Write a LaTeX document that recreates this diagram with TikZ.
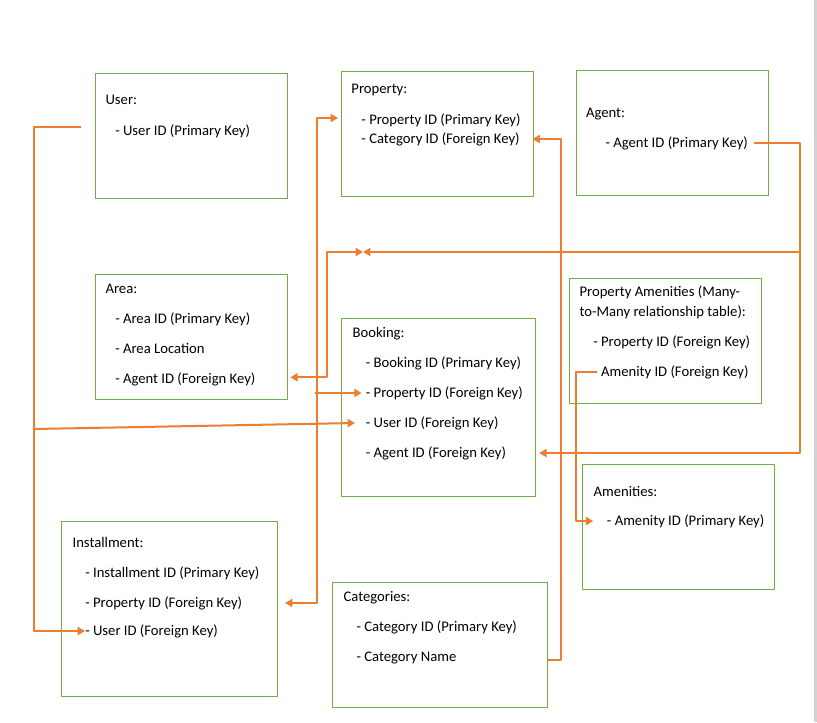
\documentclass[tikz,border=0pt]{standalone}
\usepackage{fontspec}
\setmainfont{Carlito}
\usetikzlibrary{arrows.meta}
\definecolor{boxgreen}{RGB}{112,173,71}
\definecolor{linkorange}{RGB}{237,125,49}
\newcommand{\px}{0.75pt}

\begin{document}
\begin{tikzpicture}[x=\px, y=-\px, line join=round,
    tbl/.style={draw=boxgreen, line width=0.75pt, anchor=north west, inner sep=0pt, outer sep=0pt},
    fld/.style={anchor=west, inner sep=0pt, text height=9pt, text depth=2pt, font=\fontsize{11}{13}\selectfont},
    lnk/.style={draw=linkorange, line width=1.5pt},
    >={Triangle[length=5.5pt,width=6pt]}]

        \useasboundingbox (0,0) rectangle (817,722);
        \fill[gray!35] (813.5,0) rectangle (817,722); % page edge

        % table boxes
        \foreach \nm/\x/\y/\w/\h in {user/95.5/73.5/191.5/124.5, prop/341.5/71.5/192/124.5, agent/576.5/70.5/192/125,
            area/95.5/274.5/191.5/124.5, book/341.5/318.5/194/178, pa/569.5/278.5/192/125,
            amen/582.5/464.5/192/125, instl/61.5/521.5/216/174.5, cat/332.5/582.5/215/125} {
            \node[tbl, minimum width=\w*\px, minimum height=\h*\px] (\nm) at (\x,\y) {};
        }

        % table texts
        \foreach \nm/\x/\y/\txt in {uhead/105.3/100.3/User:, usid/115/130.7/- User ID (Primary Key),
            phead/351.2/89/Property:, prid/361.2/120/- Property ID (Primary Key), prcat/361.2/139/- Category ID (Foreign Key),
            ahead/585.8/112.7/Agent:, agid/605.3/142.7/- Agent ID (Primary Key),
            arhead/105.3/289.3/Area:, arid/115/319.3/- Area ID (Primary Key), arloc/115/349.3/- Area Location,
            arag/115/379.3/- Agent ID (Foreign Key),
            bhead/352.3/333.3/Booking:, bkid/365.6/363.3/- Booking ID (Primary Key), bkprop/365.6/393/- Property ID (Foreign Key),
            bkuser/365.6/423/- User ID (Foreign Key), bkag/365.6/453/- Agent ID (Foreign Key),
            pahead/579.3/292.3/Property Amenities (Many-, pahead2/579.3/311.7/to-Many relationship table):,
            paprop/593/341.7/- Property ID (Foreign Key), paam/593/372/- Amenity ID (Foreign Key),
            mhead/593.3/491.7/Amenities:, amid/606.7/521/- Amenity ID (Primary Key),
            ihead/72.3/542.7/Installment:, inid/85/572.7/- Installment ID (Primary Key),
            inprop/85/603/- Property ID (Foreign Key), inuser/85/631/- User ID (Foreign Key),
            chead/343.3/596.7/Categories:, catid/356.3/626.7/- Category ID (Primary Key), catname/356.3/656.7/- Category Name} {
            \node[fld] (\nm) at (\x,\y) {\txt};
        }

        % bend points
        \coordinate (uout) at (81,127);
        \coordinate (ubus) at (34,127);
        \coordinate (ubr) at (34,429);
        \coordinate (pbus) at (317,118);
        \coordinate (cbus) at (561,660);
        \coordinate (abus) at (800,252);
        \coordinate (abus2) at (327,252);
        \coordinate (ameet) at (363,252);
        \coordinate (mbus) at (576,372);

        % user links
        \draw[lnk,->] (uout) -- (ubus) |- (inuser.west);
        \draw[lnk,->] (ubr) -- ([xshift=-10.6*\px]bkuser.west);

        % property links
        \draw[lnk,<->, shorten <=7.5*\px, shorten >=3.5*\px] (instl.east |- inprop.west) -| (pbus) -- (prop.west |- pbus);
        \draw[lnk,->, shorten >=4*\px] ([xshift=-2*\px]pbus |- bkprop.west) -- (bkprop.west);

        % category link
        \draw[lnk,->, shorten >=-1*\px] (cat.east |- cbus) -- (cbus) |- (prop.east |- prcat.west);

        % agent links
        \draw[lnk,->, shorten >=3.7*\px] ([xshift=6*\px]agid.east) -| (abus) |- (book.east |- bkag.west);
        \draw[lnk,->] (abus) -- (ameet);
        \draw[lnk,<->, shorten <=3.3*\px] ([yshift=2*\px]area.east |- arag.west) -| (abus2) -- (ameet);

        % amenity link
        \draw[lnk,->] ([xshift=3.8*\px]paam.west) -- (mbus) |- ([xshift=-13.4*\px]amid.west);

\end{tikzpicture}
\end{document}
